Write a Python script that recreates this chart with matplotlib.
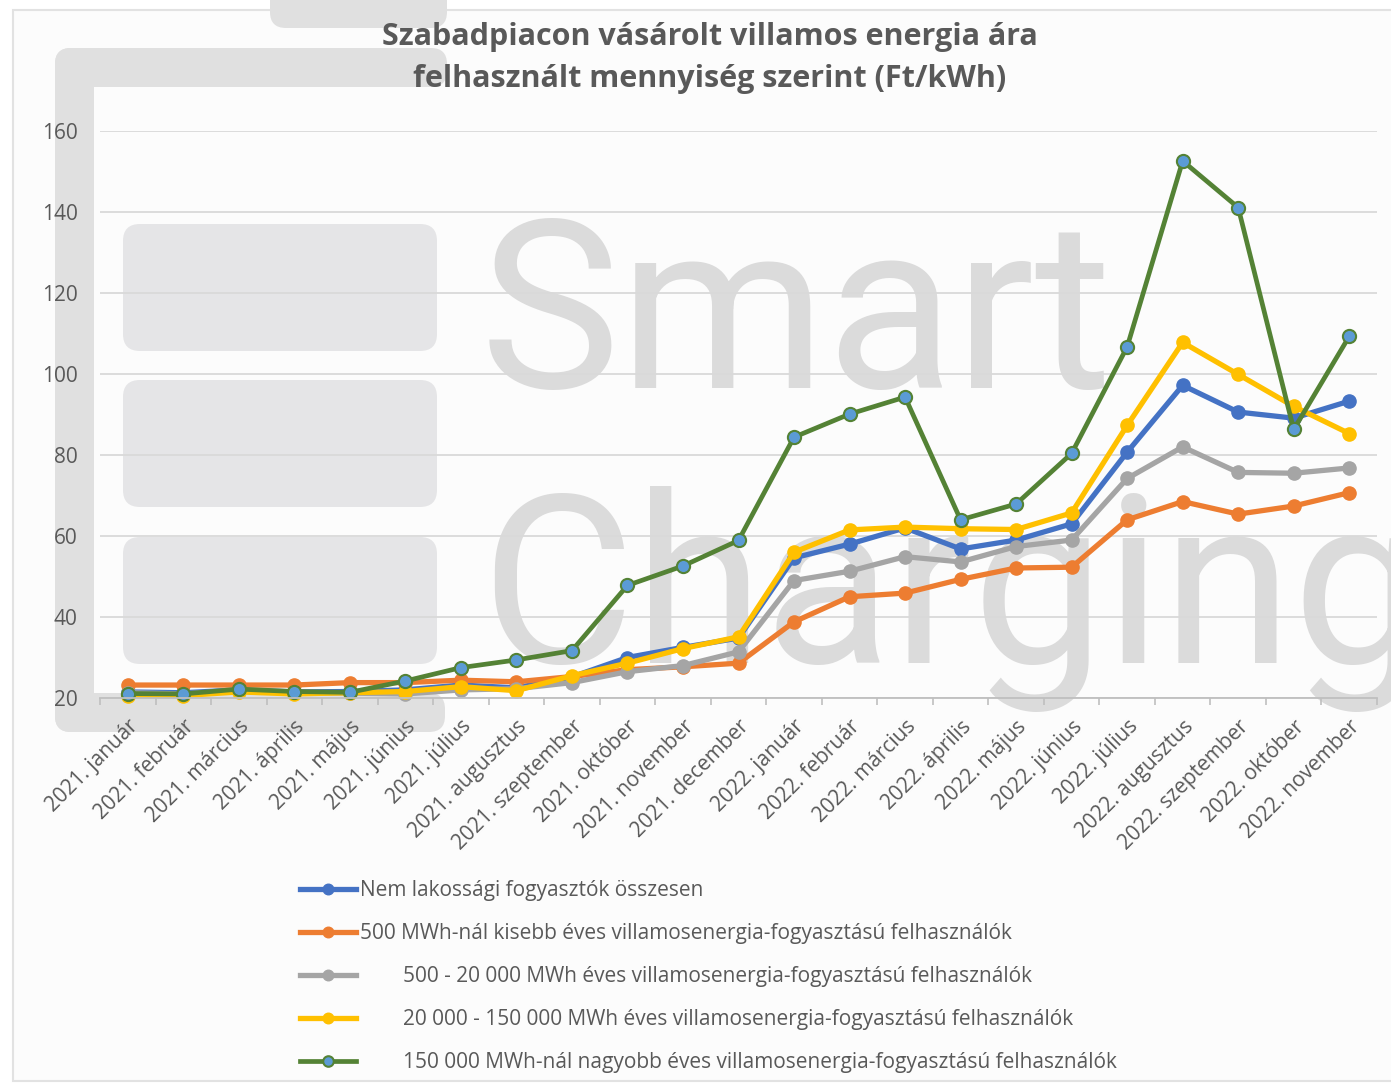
import numpy as np
import matplotlib.pyplot as plt
from matplotlib.patches import FancyBboxPatch, Rectangle
from matplotlib.transforms import IdentityTransform

W, H = 1391, 1087

months = ["2021. január", "2021. február", "2021. március", "2021. április",
          "2021. május", "2021. június", "2021. július", "2021. augusztus",
          "2021. szeptember", "2021. október", "2021. november", "2021. december",
          "2022. január", "2022. február", "2022. március", "2022. április",
          "2022. május", "2022. június", "2022. július", "2022. augusztus",
          "2022. szeptember", "2022. október", "2022. november"]

osszesen = [21.5, 21.3, 22.0, 21.5, 21.6, 22.0, 23.2, 22.5, 25.2, 30.0, 32.5, 34.8,
            54.6, 58.0, 62.0, 56.8, 59.0, 63.0, 80.7, 97.2, 90.6, 89.1, 93.3]
kisebb_500 = [23.2, 23.2, 23.2, 23.2, 23.8, 23.8, 24.4, 24.0, 25.3, 27.0, 27.7, 28.6,
              38.8, 45.0, 45.9, 49.3, 52.1, 52.3, 64.0, 68.5, 65.4, 67.4, 70.7]
kozott_500_20000 = [21.3, 21.0, 21.8, 21.2, 21.2, 21.0, 22.0, 22.3, 23.8, 26.5, 28.0, 31.4,
                    49.0, 51.3, 54.9, 53.6, 57.4, 59.0, 74.2, 82.0, 75.7, 75.5, 76.8]
kozott_20000_150000 = [20.6, 20.6, 21.5, 21.0, 21.3, 21.6, 22.8, 21.8, 25.5, 28.6, 32.2, 35.1,
                       56.0, 61.5, 62.2, 61.8, 61.6, 65.7, 87.3, 107.8, 99.9, 92.0, 85.3]
nagyobb_150000 = [21.1, 21.0, 22.2, 21.6, 21.4, 24.2, 27.5, 29.4, 31.7, 47.8, 52.6, 58.9,
                  84.4, 90.1, 94.3, 64.0, 67.9, 80.4, 106.7, 152.6, 141.1, 86.3, 109.3]

labels = ["Nem lakossági fogyasztók összesen",
          "500 MWh-nál kisebb éves villamosenergia-fogyasztású felhasználók",
          "        500 - 20 000 MWh éves villamosenergia-fogyasztású felhasználók",
          "        20 000 - 150 000 MWh éves villamosenergia-fogyasztású felhasználók",
          "        150 000 MWh-nál nagyobb éves villamosenergia-fogyasztású felhasználók"]

plt.rcParams['font.family'] = ['Open Sans', 'DejaVu Sans']
TXT = '#595959'

fig = plt.figure(figsize=(W / 100, H / 100), dpi=100, facecolor='white')
pix = IdentityTransform()


def box(x0, y0, x1, y1, color, r=16, z=-2):
    # rectangle given in top-left pixel coordinates
    p = FancyBboxPatch((x0, H - y1), x1 - x0, y1 - y0,
                       boxstyle=f"round,pad=0,rounding_size={r}",
                       transform=pix, facecolor=color, edgecolor='none', zorder=z)
    fig.add_artist(p)


# chart area background + border
fig.add_artist(Rectangle((13, 6), W, H - 16, transform=pix, facecolor='#fcfcfc',
                         edgecolor='#e2e2e2', lw=1.5, zorder=-3))

# watermark logo (the reference cuts "Charging" at the right edge too)
frame = '#e0e0e0'
box(270, -20, 447, 28, frame)
box(55, 48, 447, 87, frame)
box(55, 48, 94, 732, frame)
box(55, 693, 445, 732, frame)
for y0, y1 in [(224, 351), (380, 507), (537, 664)]:
    box(123, y0, 437, y1, '#e5e5e7', r=17)

fig.text(480, H - 388, "Smart", transform=pix, fontsize=170, family='Roboto',
         fontweight='normal', color='#dbdbdb', ha='left', va='baseline', zorder=-1)
fig.text(480, H - 663, "Charging", transform=pix, fontsize=170, family='Roboto',
         fontweight='normal', color='#dbdbdb', ha='left', va='baseline', zorder=-1)

ax = fig.add_axes([100 / W, (H - 698) / H, 1277 / W, (698 - 131) / H])
ax.set_facecolor('none')

x = np.arange(len(months))
series = [(osszesen, '#4472c4'), (kisebb_500, '#ed7d31'), (kozott_500_20000, '#a5a5a5'),
          (kozott_20000_150000, '#ffc000')]
for (vals, col), lab in zip(series, labels):
    ax.plot(x, vals, color=col, lw=3.8, marker='o', ms=9.5, mfc=col, mec=col,
            label=lab, clip_on=False)
ax.plot(x, nagyobb_150000, color='#548235', lw=3.4, marker='o', ms=9.5,
        mfc='#5b9bd5', mec='#548235', mew=1.5, label=labels[4], clip_on=False)

ax.set_xlim(-0.5, len(months) - 0.5)
ax.set_ylim(20, 160)
ax.set_yticks(np.arange(20, 161, 20))
ax.grid(axis='y', color='#d9d9d9', lw=1.3)
ax.set_axisbelow(True)
for s in ['left', 'right', 'top']:
    ax.spines[s].set_visible(False)
ax.spines['bottom'].set_color('#bfbfbf')
ax.spines['bottom'].set_linewidth(1.3)

ax.tick_params(axis='y', length=0, pad=16, labelsize=15, labelcolor=TXT)
ax.set_xticks(x)
ax.set_xticklabels(months, rotation=45, ha='right', rotation_mode='anchor',
                   fontsize=15, color=TXT)
ax.tick_params(axis='x', which='major', length=0, pad=13)
ax.set_xticks(np.arange(-0.5, len(months), 1), minor=True)
ax.tick_params(axis='x', which='minor', length=5, width=1.2, color='#bfbfbf')

fig.text(710 / W, 1 - 37 / H, "Szabadpiacon vásárolt villamos energia ára",
         ha='center', va='center', fontsize=22, fontweight='bold', color=TXT)
fig.text(710 / W, 1 - 79 / H, "felhasznált mennyiség szerint (Ft/kWh)",
         ha='center', va='center', fontsize=22, fontweight='bold', color=TXT)

fig.legend(loc='upper left', bbox_to_anchor=(300 / W, 1 - 880 / H),
           frameon=False, fontsize=15, labelcolor=TXT, handlelength=2.7,
           handletextpad=0.2, labelspacing=1.06, borderpad=0, borderaxespad=0,
           markerscale=0.8)

fig.savefig("out.png", dpi=100, facecolor=fig.get_facecolor())
